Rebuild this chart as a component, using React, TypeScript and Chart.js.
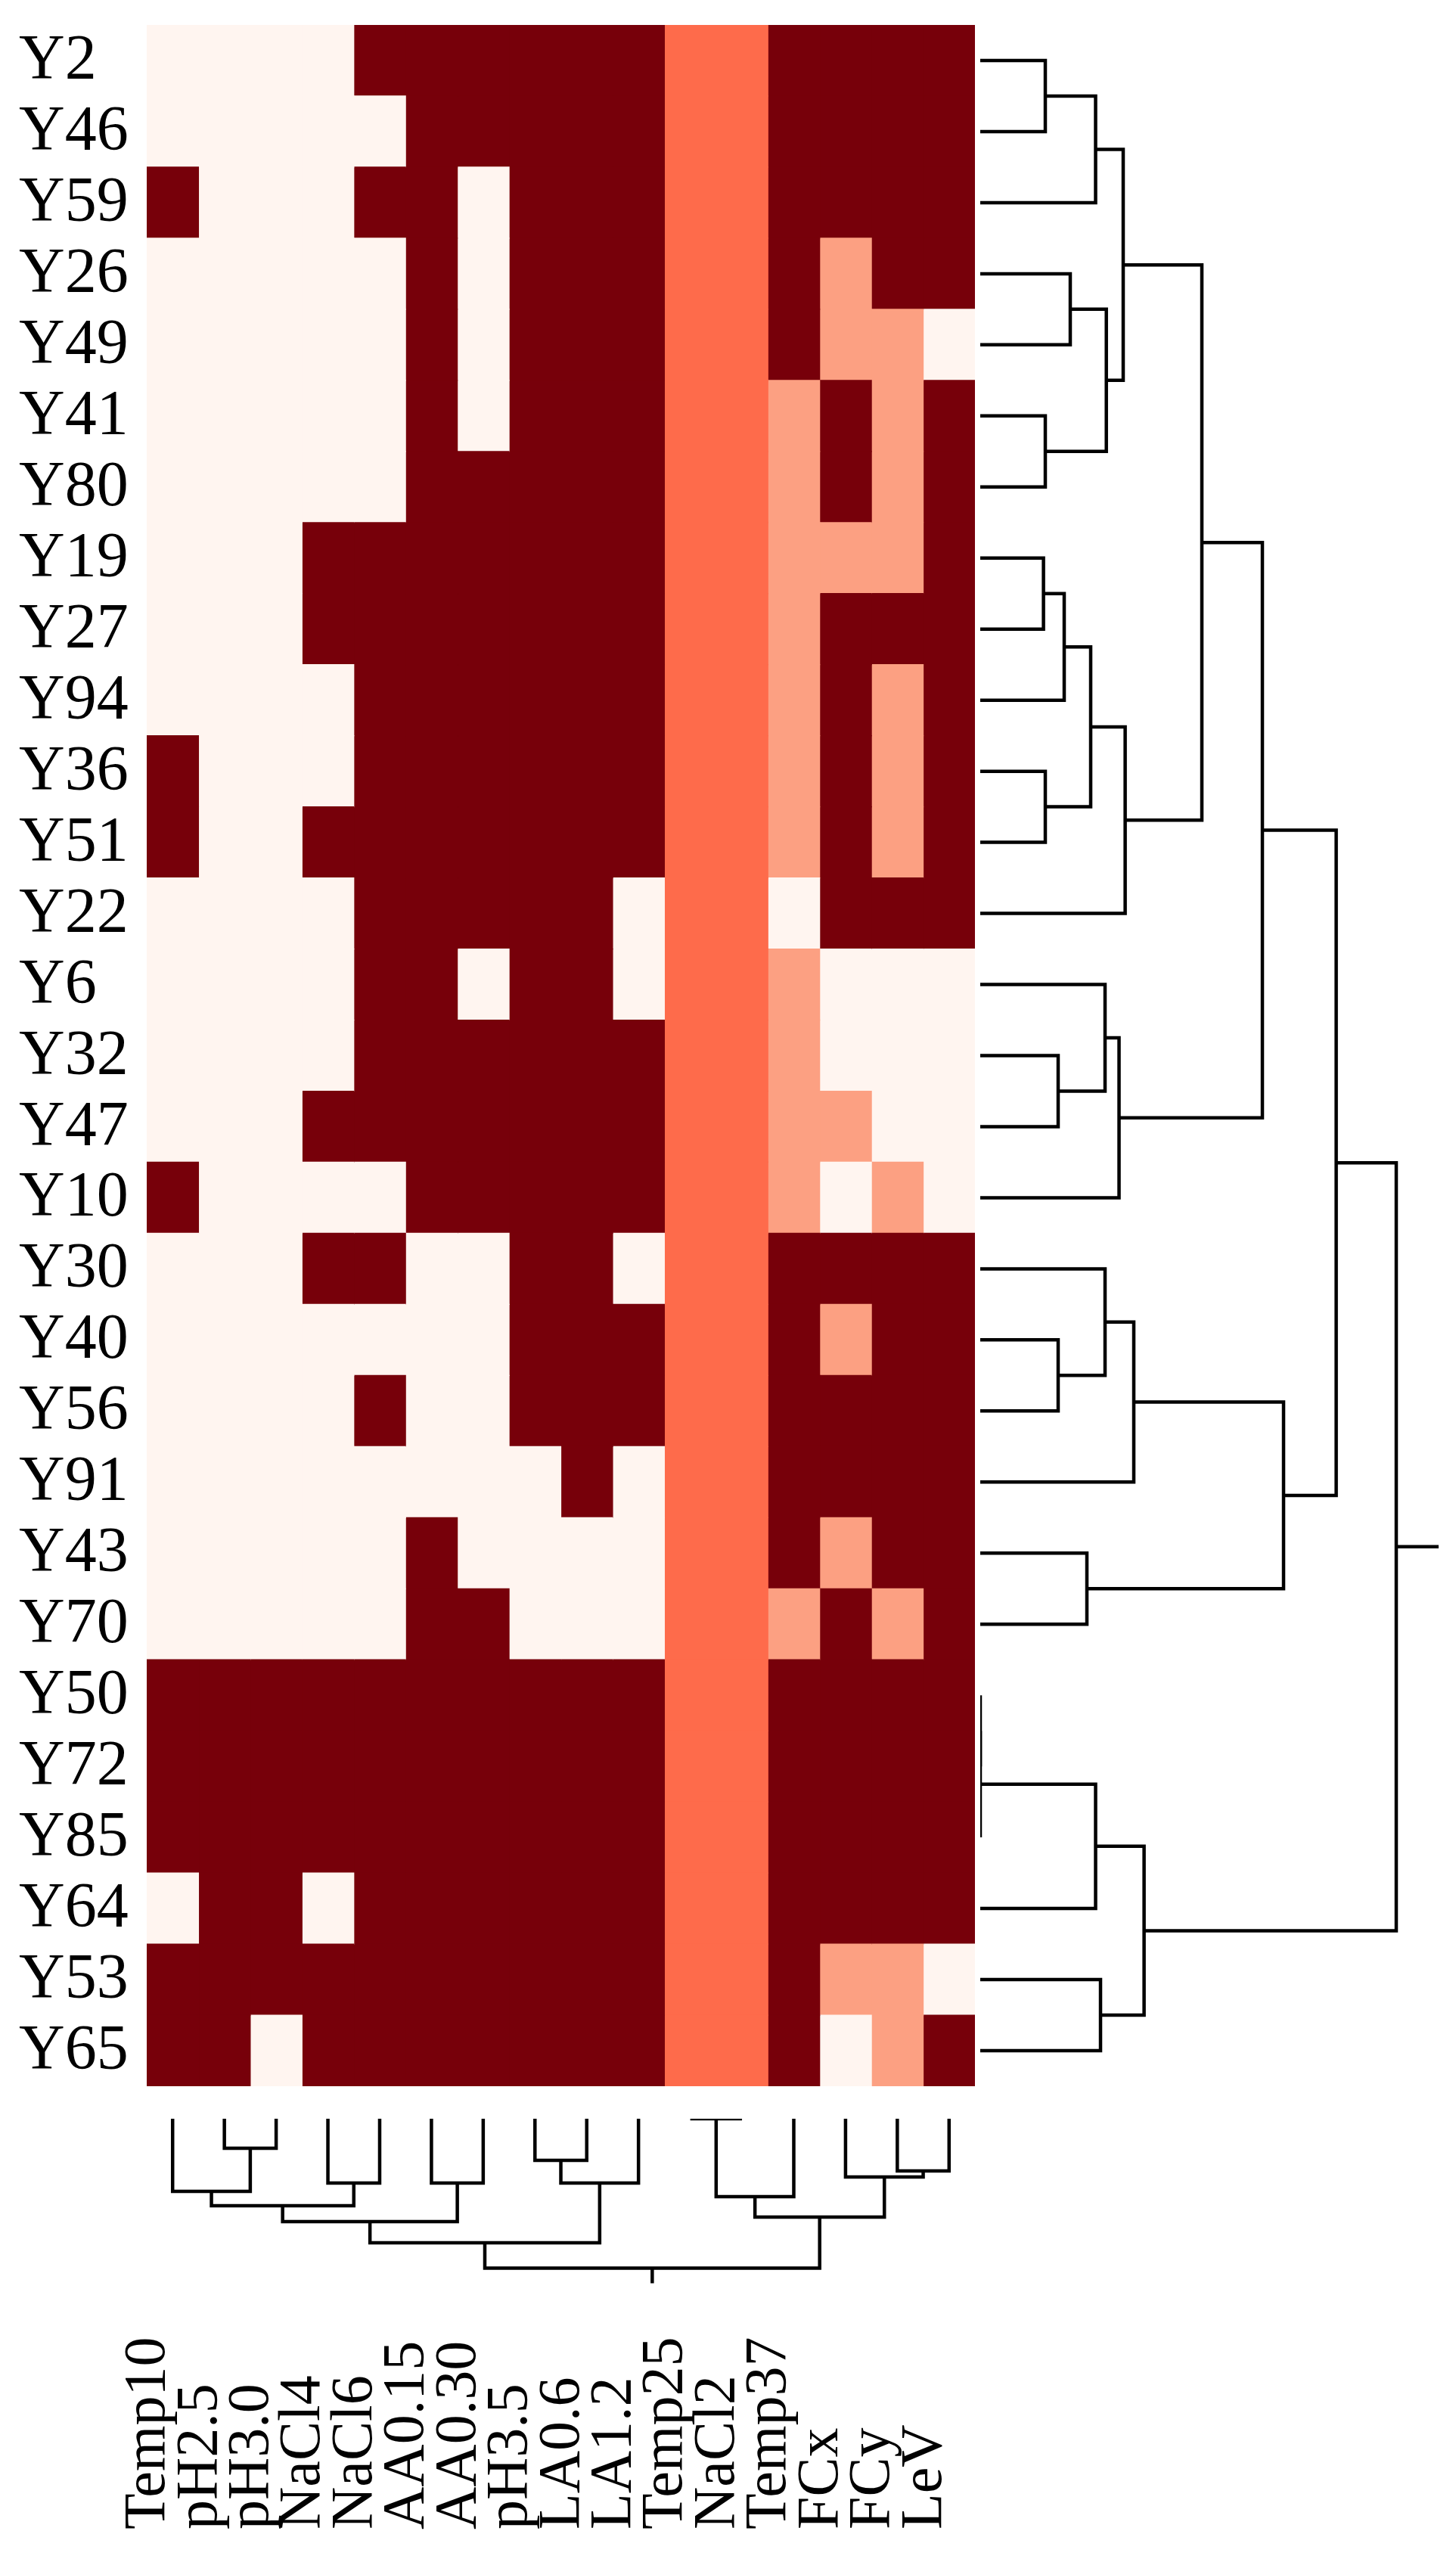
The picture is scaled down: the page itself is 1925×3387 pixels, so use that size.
import React, { useEffect, useRef } from "react";
import { Chart, registerables } from "chart.js";

Chart.register(...registerables);

// ---------------- data ----------------
const rowLabels = [
  "Y2", "Y46", "Y59", "Y26", "Y49", "Y41", "Y80", "Y19", "Y27", "Y94",
  "Y36", "Y51", "Y22", "Y6", "Y32", "Y47", "Y10", "Y30", "Y40", "Y56",
  "Y91", "Y43", "Y70", "Y50", "Y72", "Y85", "Y64", "Y53", "Y65",
];

const colLabels = [
  "Temp10", "pH2.5", "pH3.0", "NaCl4", "NaCl6", "AA0.15", "AA0.30", "pH3.5",
  "LA0.6", "LA1.2", "Temp25", "NaCl2", "Temp37", "FCx", "FCy", "LeV",
];

// colour level of each cell (0 = lowest, 3 = highest)
const levelColors = ["#FFF5F0", "#FCA082", "#FE6B4B", "#77000A"];

const cellLevels = [
  [0, 0, 0, 0, 3, 3, 3, 3, 3, 3, 2, 2, 3, 3, 3, 3], // Y2
  [0, 0, 0, 0, 0, 3, 3, 3, 3, 3, 2, 2, 3, 3, 3, 3], // Y46
  [3, 0, 0, 0, 3, 3, 0, 3, 3, 3, 2, 2, 3, 3, 3, 3], // Y59
  [0, 0, 0, 0, 0, 3, 0, 3, 3, 3, 2, 2, 3, 1, 3, 3], // Y26
  [0, 0, 0, 0, 0, 3, 0, 3, 3, 3, 2, 2, 3, 1, 1, 0], // Y49
  [0, 0, 0, 0, 0, 3, 0, 3, 3, 3, 2, 2, 1, 3, 1, 3], // Y41
  [0, 0, 0, 0, 0, 3, 3, 3, 3, 3, 2, 2, 1, 3, 1, 3], // Y80
  [0, 0, 0, 3, 3, 3, 3, 3, 3, 3, 2, 2, 1, 1, 1, 3], // Y19
  [0, 0, 0, 3, 3, 3, 3, 3, 3, 3, 2, 2, 1, 3, 3, 3], // Y27
  [0, 0, 0, 0, 3, 3, 3, 3, 3, 3, 2, 2, 1, 3, 1, 3], // Y94
  [3, 0, 0, 0, 3, 3, 3, 3, 3, 3, 2, 2, 1, 3, 1, 3], // Y36
  [3, 0, 0, 3, 3, 3, 3, 3, 3, 3, 2, 2, 1, 3, 1, 3], // Y51
  [0, 0, 0, 0, 3, 3, 3, 3, 3, 0, 2, 2, 0, 3, 3, 3], // Y22
  [0, 0, 0, 0, 3, 3, 0, 3, 3, 0, 2, 2, 1, 0, 0, 0], // Y6
  [0, 0, 0, 0, 3, 3, 3, 3, 3, 3, 2, 2, 1, 0, 0, 0], // Y32
  [0, 0, 0, 3, 3, 3, 3, 3, 3, 3, 2, 2, 1, 1, 0, 0], // Y47
  [3, 0, 0, 0, 0, 3, 3, 3, 3, 3, 2, 2, 1, 0, 1, 0], // Y10
  [0, 0, 0, 3, 3, 0, 0, 3, 3, 0, 2, 2, 3, 3, 3, 3], // Y30
  [0, 0, 0, 0, 0, 0, 0, 3, 3, 3, 2, 2, 3, 1, 3, 3], // Y40
  [0, 0, 0, 0, 3, 0, 0, 3, 3, 3, 2, 2, 3, 3, 3, 3], // Y56
  [0, 0, 0, 0, 0, 0, 0, 0, 3, 0, 2, 2, 3, 3, 3, 3], // Y91
  [0, 0, 0, 0, 0, 3, 0, 0, 0, 0, 2, 2, 3, 1, 3, 3], // Y43
  [0, 0, 0, 0, 0, 3, 3, 0, 0, 0, 2, 2, 1, 3, 1, 3], // Y70
  [3, 3, 3, 3, 3, 3, 3, 3, 3, 3, 2, 2, 3, 3, 3, 3], // Y50
  [3, 3, 3, 3, 3, 3, 3, 3, 3, 3, 2, 2, 3, 3, 3, 3], // Y72
  [3, 3, 3, 3, 3, 3, 3, 3, 3, 3, 2, 2, 3, 3, 3, 3], // Y85
  [0, 3, 3, 0, 3, 3, 3, 3, 3, 3, 2, 2, 3, 3, 3, 3], // Y64
  [3, 3, 3, 3, 3, 3, 3, 3, 3, 3, 2, 2, 3, 1, 1, 0], // Y53
  [3, 3, 0, 3, 3, 3, 3, 3, 3, 3, 2, 2, 3, 0, 1, 3], // Y65
];

// dendrograms: [merge height, left child, right child]; a number is a leaf index
type TreeNode = number | [number, TreeNode, TreeNode];

const rowTree: TreeNode = [
  550,
  [
    470.6,
    [
      373,
      [
        293,
        [189, [152.5, [86, 0, 1], 2], [166.7, [119, 3, 4], [86, 5, 6]]],
        [191.6, [146, [111, [83.6, 7, 8], 9], [86, 10, 11]], 12],
      ],
      [183.5, [165, 13, [103, 14, 15]], 16],
    ],
    [401, [203, [165, 17, [103, 18, 19]], 20], [141, 21, 22]],
  ],
  [216.6, [152.5, [0, [0, 23, 24], 25], 26], [159, 27, 28]],
];
const rowRootStub = 606;

const colTree: TreeNode = [
  197.5,
  [
    164,
    [136, [115, [96, 0, [39, 1, 2]], [85, 3, 4]], [85, 5, 6]],
    [85, [55, 7, 8], 9],
  ],
  [130, [103, [0, 10, 11], 12], [77, 13, [69, 14, 15]]],
];
const colRootStub = 217.5;

// ---------------- helpers ----------------
type Link = { h: number; p1: number; h1: number; p2: number; h2: number };

function collectLinks(node: TreeNode, links: Link[]): { pos: number; h: number } {
  if (typeof node === "number") return { pos: node, h: 0 };
  const [h, a, b] = node;
  const A = collectLinks(a, links);
  const B = collectLinks(b, links);
  links.push({ h, p1: A.pos, h1: A.h, p2: B.pos, h2: B.h });
  return { pos: (A.pos + B.pos) / 2, h };
}

const FONT = "'Liberation Serif', 'Times New Roman', Times, serif";

const lineStyle = {
  showLine: true,
  borderColor: "#000",
  borderWidth: 4.5,
  pointRadius: 0,
  pointHoverRadius: 0,
  fill: false,
  tension: 0,
  borderJoinStyle: "miter" as const,
  borderCapStyle: "butt" as const,
};

function ChartBox(props: {
  left: number;
  top: number;
  width: number;
  height: number;
  makeConfig: () => any;
}) {
  const ref = useRef<HTMLCanvasElement | null>(null);
  useEffect(() => {
    if (!ref.current) return;
    const chart = new Chart(ref.current, props.makeConfig());
    return () => chart.destroy();
  }, []);
  return (
    <canvas
      ref={ref}
      width={props.width}
      height={props.height}
      style={{
        position: "absolute",
        left: props.left,
        top: props.top,
        width: props.width,
        height: props.height,
      }}
    />
  );
}

// ---------------- chart configs ----------------
function heatmapConfig() {
  return {
    type: "bar",
    data: {
      labels: rowLabels,
      datasets: colLabels.map((name, j) => ({
        label: name,
        data: rowLabels.map(() => 1),
        backgroundColor: cellLevels.map((row) => levelColors[row[j]]),
        borderWidth: 0,
        inflateAmount: 0.6,
        barPercentage: 1,
        categoryPercentage: 1,
      })),
    },
    options: {
      indexAxis: "y",
      animation: false,
      responsive: false,
      devicePixelRatio: 1,
      layout: { padding: { left: 25, top: 70, bottom: 70, right: 0 } },
      plugins: { legend: { display: false }, tooltip: { enabled: false } },
      scales: {
        x: { stacked: true, display: false, min: 0, max: colLabels.length },
        y: {
          stacked: true,
          grid: { display: false },
          border: { display: false },
          ticks: {
            crossAlign: "far",
            padding: 0,
            color: "#000",
            autoSkip: false,
            labelOffset: 2,
            font: { family: FONT, size: 84 },
          },
          afterFit: (s: any) => {
            s.width = 169;
          },
        },
      },
    },
  };
}

function rowDendroConfig() {
  const links: Link[] = [];
  const root = collectLinks(rowTree, links);
  const datasets = links.map((l) => ({
    ...lineStyle,
    data: [
      { x: l.h1, y: l.p1 },
      { x: l.h, y: l.p1 },
      { x: l.h, y: l.p2 },
      { x: l.h2, y: l.p2 },
    ],
  }));
  datasets.push({
    ...lineStyle,
    data: [
      { x: root.h, y: root.pos },
      { x: rowRootStub, y: root.pos },
    ],
  });
  return {
    type: "scatter",
    data: { datasets },
    options: {
      animation: false,
      responsive: false,
      devicePixelRatio: 1,
      layout: { padding: { left: 6, top: 33, bottom: 42, right: 0 } },
      plugins: { legend: { display: false }, tooltip: { enabled: false } },
      scales: {
        x: { type: "linear", display: false, min: 0, max: 629 },
        y: { type: "linear", display: false, min: -0.5, max: rowLabels.length - 0.5, reverse: true },
      },
    },
  };
}

function colDendroConfig() {
  const links: Link[] = [];
  const root = collectLinks(colTree, links);
  const datasets = links.map((l) => ({
    ...lineStyle,
    data: [
      { x: l.p1, y: l.h1 },
      { x: l.p1, y: l.h },
      { x: l.p2, y: l.h },
      { x: l.p2, y: l.h2 },
    ],
  }));
  datasets.push({
    ...lineStyle,
    data: [
      { x: root.pos, y: root.h },
      { x: root.pos, y: colRootStub },
    ],
  });
  return {
    type: "scatter",
    data: { datasets },
    options: {
      animation: false,
      responsive: false,
      devicePixelRatio: 1,
      layout: { padding: { left: 10, top: 11, bottom: 11, right: 10 } },
      plugins: { legend: { display: false }, tooltip: { enabled: false } },
      scales: {
        x: { type: "linear", display: false, min: -0.5, max: colLabels.length - 0.5 },
        y: { type: "linear", display: false, min: 0, max: 218, reverse: true },
      },
    },
  };
}

function colLabelConfig() {
  return {
    type: "line",
    data: { labels: colLabels, datasets: [] },
    options: {
      animation: false,
      responsive: false,
      devicePixelRatio: 1,
      layout: { padding: { left: 150, top: 52, bottom: 0, right: 150 } },
      plugins: { legend: { display: false }, tooltip: { enabled: false } },
      scales: {
        x: {
          type: "category",
          position: "top",
          offset: true,
          grid: { display: false },
          border: { display: false },
          ticks: {
            autoSkip: false,
            minRotation: 90,
            maxRotation: 90,
            padding: 0,
            color: "#000",
            labelOffset: 62,
            font: { family: FONT, size: 78 },
          },
          afterFit: (s: any) => {
            s.height = 300;
          },
        },
        y: { display: false },
      },
    },
  };
}

export default function App() {
  return (
    <div
      style={{
        position: "absolute",
        left: 0,
        top: 0,
        width: 1925,
        height: 3387,
        overflow: "hidden",
        background: "#fff",
      }}
    >
      <ChartBox left={0} top={-37} width={1289} height={2865} makeConfig={heatmapConfig} />
      <ChartBox left={1290} top={0} width={635} height={2800} makeConfig={rowDendroConfig} />
      <ChartBox left={184} top={2790} width={1115} height={240} makeConfig={colDendroConfig} />
      <ChartBox left={44} top={3000} width={1395} height={387} makeConfig={colLabelConfig} />
    </div>
  );
}
